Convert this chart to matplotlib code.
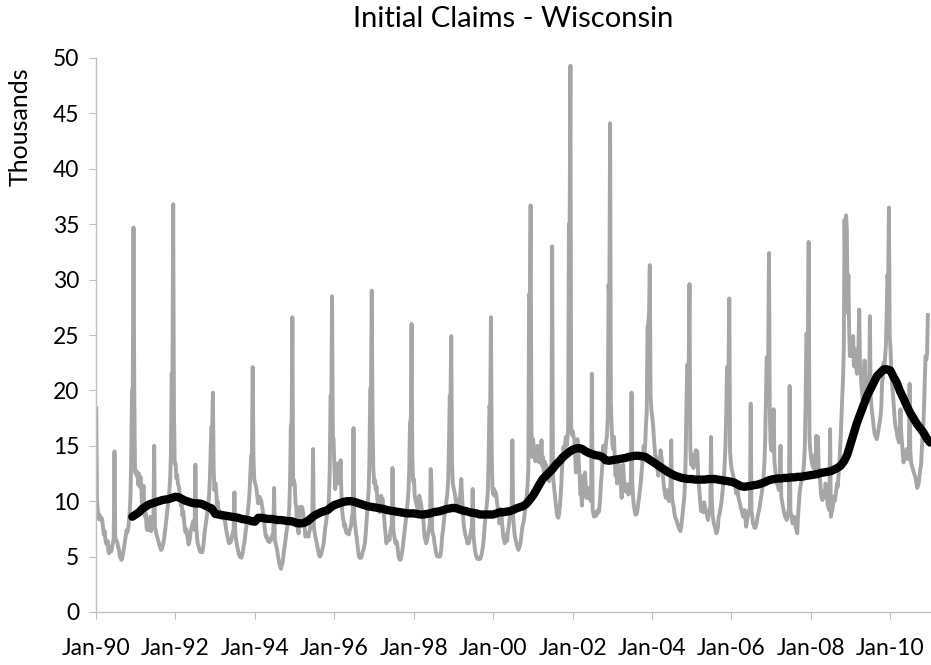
import pandas as pd
import matplotlib
matplotlib.use("Agg")
import matplotlib.pyplot as plt

plt.rcParams['font.family'] = ['Lato', 'DejaVu Sans']

# Weekly initial claims in Wisconsin (thousands), one list per year
claims_1990 = [18.4, 10.1, 9.2, 8.4, 8.8, 8.6, 8.3, 8.5, 8.2, 7.6,
               7.0, 7.3, 6.6, 6.2, 6.1, 6.4, 5.5, 5.3, 5.9, 5.5,
               5.5, 5.9, 6.3, 6.6, 14.5, 6.8, 6.5, 6.4, 6.2, 5.8,
               5.6, 5.0, 4.9, 4.7, 4.8, 5.2, 5.6, 6.0, 6.5, 7.0,
               7.4, 7.2, 7.6, 8.2, 9.0, 10.4, 14.0, 20.0, 20.3, 34.7,
               20.0, 12.6]
claims_1991 = [12.8, 12.3, 12.6, 11.5, 12.5, 11.3, 12.2, 11.4, 9.6, 10.4,
               11.4, 9.6, 8.6, 8.9, 7.6, 7.4, 8.0, 7.4, 7.7, 8.6,
               7.3, 7.6, 8.0, 8.2, 15.0, 7.6, 7.4, 7.0, 6.8, 6.5,
               6.3, 6.0, 5.8, 5.6, 5.7, 5.9, 6.2, 6.6, 7.2, 7.7,
               8.4, 9.0, 9.6, 10.3, 11.0, 12.0, 14.3, 21.5, 21.0, 36.8,
               18.0, 13.4]
claims_1992 = [13.4, 12.1, 12.4, 11.6, 11.4, 11.0, 10.1, 9.6, 9.9, 8.7,
               9.1, 8.4, 7.6, 7.2, 7.5, 7.0, 6.6, 6.1, 6.3, 6.8,
               7.4, 7.6, 7.9, 8.2, 7.8, 7.4, 13.3, 8.0, 6.9, 6.2,
               6.0, 5.7, 5.5, 5.4, 5.5, 5.4, 5.7, 6.3, 7.1, 7.6,
               8.1, 8.6, 9.1, 9.8, 10.5, 12.0, 14.5, 16.7, 16.5, 19.8,
               13.0, 11.0]
claims_1993 = [11.6, 11.0, 9.7, 10.0, 9.1, 8.8, 9.1, 8.5, 8.9, 8.7,
               8.9, 8.4, 8.7, 8.0, 7.5, 7.1, 6.8, 6.4, 6.2, 6.3,
               6.3, 6.5, 6.9, 7.2, 7.5, 10.8, 7.3, 6.6, 6.2, 5.8,
               5.5, 5.2, 5.0, 5.0, 4.9, 5.1, 5.4, 5.9, 6.2, 6.8,
               7.4, 7.9, 8.6, 9.3, 10.0, 11.0, 12.5, 14.1, 14.3, 22.1,
               14.1, 12.0]
claims_1994 = [11.6, 11.4, 11.0, 10.4, 9.8, 10.1, 10.4, 9.9, 10.1, 9.6,
               9.2, 8.6, 8.0, 7.4, 6.8, 6.9, 6.6, 6.4, 6.5, 6.3,
               6.6, 6.5, 6.8, 7.0, 6.9, 11.2, 6.5, 6.2, 5.9, 5.6,
               5.1, 4.7, 4.3, 4.1, 3.9, 4.2, 4.4, 4.9, 5.6, 6.0,
               6.5, 7.1, 7.6, 8.0, 8.6, 9.4, 12.0, 16.8, 17.1, 26.6,
               11.5, 11.9]
claims_1995 = [11.5, 9.8, 9.5, 7.7, 7.6, 7.1, 8.4, 9.5, 9.2, 9.5,
               9.4, 8.9, 8.3, 7.6, 6.8, 7.0, 7.1, 6.9, 6.8, 7.2,
               7.5, 8.0, 7.6, 7.9, 14.7, 7.8, 7.2, 6.8, 6.5, 6.2,
               5.8, 5.4, 5.1, 5.0, 5.1, 5.3, 5.6, 5.9, 6.2, 6.9,
               7.6, 8.0, 8.6, 9.0, 9.2, 10.5, 13.0, 19.5, 19.2, 28.5,
               15.9, 15.6]
claims_1996 = [12.8, 11.1, 11.8, 13.4, 12.6, 11.6, 12.1, 11.9, 13.7, 10.9,
               9.2, 8.6, 8.2, 7.7, 7.9, 7.3, 7.1, 7.3, 7.1, 7.0,
               7.4, 7.6, 7.9, 8.6, 8.9, 16.6, 8.6, 7.9, 7.3, 6.8,
               6.2, 5.6, 5.1, 4.9, 5.0, 4.9, 5.1, 5.4, 5.6, 5.9,
               6.2, 7.0, 8.0, 9.0, 10.0, 11.1, 14.0, 20.1, 20.4, 29.0,
               17.7, 13.0]
claims_1997 = [11.6, 11.9, 11.0, 11.3, 10.2, 9.3, 9.6, 9.0, 9.8, 10.5,
               10.0, 10.2, 9.1, 8.6, 7.6, 6.9, 6.2, 6.6, 6.5, 6.8,
               6.5, 7.2, 7.6, 7.8, 13.0, 7.4, 7.0, 6.5, 6.2, 6.4,
               6.2, 5.6, 5.0, 4.8, 4.7, 4.8, 5.2, 5.6, 6.2, 6.8,
               7.4, 8.0, 8.6, 9.3, 10.0, 11.0, 13.0, 17.1, 17.4, 26.0,
               14.1, 11.8]
claims_1998 = [12.0, 10.5, 10.1, 9.8, 9.5, 9.3, 9.8, 10.5, 10.2, 9.9,
               9.4, 9.0, 8.6, 7.6, 6.8, 6.5, 6.2, 6.4, 6.8, 7.2,
               7.6, 8.0, 12.9, 11.6, 7.4, 7.0, 6.8, 6.2, 5.8, 5.4,
               5.1, 5.0, 5.0, 5.1, 5.0, 5.2, 5.8, 6.8, 7.3, 8.0,
               8.6, 9.2, 9.6, 10.2, 10.8, 12.0, 15.0, 19.5, 19.4, 24.9,
               13.4, 11.6]
claims_1999 = [11.2, 10.8, 10.5, 10.0, 9.7, 9.3, 9.8, 10.2, 9.9, 11.0,
               12.0, 10.5, 9.2, 8.0, 7.5, 7.1, 6.8, 6.6, 6.2, 6.3,
               6.2, 6.6, 7.0, 7.4, 7.6, 11.1, 6.9, 6.2, 5.6, 5.2,
               5.0, 4.8, 4.8, 4.9, 4.8, 4.8, 5.0, 5.3, 5.7, 6.2,
               7.0, 8.0, 8.7, 9.3, 10.0, 11.0, 14.0, 18.6, 18.3, 26.6,
               14.7, 11.1]
claims_2000 = [10.6, 11.1, 10.5, 10.8, 10.5, 9.8, 9.3, 9.0, 8.0, 8.6,
               9.3, 8.5, 7.6, 6.8, 6.5, 6.2, 6.6, 7.0, 6.4, 7.2,
               7.6, 8.2, 8.8, 9.3, 9.0, 15.5, 8.6, 7.7, 7.0, 6.6,
               6.3, 6.0, 5.8, 5.6, 5.8, 6.0, 6.4, 7.0, 7.6, 7.9,
               8.2, 8.8, 9.5, 10.0, 10.6, 11.5, 13.0, 28.7, 28.2, 36.7,
               17.0, 14.0]
claims_2001 = [15.6, 14.8, 14.2, 13.6, 14.4, 13.8, 15.0, 14.2, 13.5, 14.6,
               13.8, 15.5, 13.2, 14.0, 12.6, 13.6, 12.9, 13.3, 12.0, 12.4,
               13.0, 11.8, 12.6, 13.2, 12.8, 33.0, 12.3, 11.6, 10.8, 10.3,
               9.6, 9.0, 8.6, 8.5, 8.8, 9.4, 10.3, 11.5, 13.0, 13.8,
               14.9, 14.0, 15.2, 15.8, 15.0, 15.6, 16.5, 35.0, 35.2, 49.3,
               16.7, 16.0]
claims_2002 = [16.3, 15.8, 15.6, 14.3, 12.6, 14.0, 15.6, 14.5, 13.3, 12.2,
               10.6, 10.9, 9.6, 10.8, 12.3, 11.6, 12.6, 11.4, 10.3, 10.8,
               11.2, 10.6, 10.2, 10.5, 10.0, 21.5, 9.3, 8.9, 8.6, 8.8,
               9.0, 8.7, 9.0, 9.2, 9.0, 9.5, 10.4, 11.6, 12.5, 13.4,
               15.0, 14.2, 13.6, 14.8, 15.5, 16.0, 18.0, 29.5, 28.0, 44.1,
               19.0, 16.7]
claims_2003 = [15.0, 14.7, 15.8, 13.6, 12.3, 12.9, 11.6, 12.5, 13.3, 12.8,
               12.3, 11.4, 10.3, 11.5, 13.3, 12.0, 11.6, 10.9, 11.2, 10.8,
               11.5, 10.6, 11.0, 11.6, 11.2, 19.8, 11.6, 10.4, 9.6, 9.2,
               8.8, 8.8, 8.9, 9.3, 9.9, 10.4, 11.0, 11.6, 12.4, 13.3,
               14.1, 15.0, 14.4, 15.2, 17.0, 18.0, 25.7, 26.0, 27.0, 31.3,
               19.5, 18.3]
claims_2004 = [17.6, 17.0, 16.0, 15.0, 14.2, 14.0, 13.3, 12.8, 12.3, 12.9,
               13.6, 14.6, 14.0, 13.6, 12.5, 11.6, 11.0, 10.6, 10.3, 10.6,
               11.0, 10.6, 10.0, 10.4, 11.6, 15.5, 10.4, 9.8, 9.6, 9.0,
               8.6, 8.4, 8.3, 8.0, 7.8, 7.6, 7.4, 7.3, 7.6, 8.3,
               8.9, 9.6, 10.2, 11.5, 14.0, 18.5, 22.3, 22.0, 22.5, 29.6,
               15.0, 13.3]
claims_2005 = [14.2, 13.3, 13.0, 13.6, 14.0, 14.6, 14.2, 14.5, 12.5, 11.6,
               10.6, 9.8, 9.1, 9.6, 9.3, 9.0, 9.9, 9.5, 9.3, 9.0,
               8.6, 8.3, 8.8, 9.0, 9.4, 15.8, 10.3, 8.8, 8.3, 7.9,
               7.7, 7.4, 7.1, 7.3, 7.6, 8.6, 8.8, 9.2, 9.6, 10.1,
               10.8, 11.6, 12.2, 13.5, 15.0, 18.0, 22.1, 21.8, 22.1, 28.3,
               14.5, 13.5]
claims_2006 = [12.9, 12.6, 12.3, 12.0, 11.6, 11.2, 10.7, 11.1, 10.9, 10.3,
               10.0, 9.8, 9.4, 9.2, 8.9, 8.6, 8.9, 9.2, 8.4, 7.7,
               8.2, 8.6, 8.9, 9.2, 9.4, 18.8, 9.2, 8.6, 8.0, 7.8,
               7.6, 7.6, 7.8, 8.1, 8.6, 8.9, 9.2, 9.6, 10.1, 10.5,
               11.0, 11.6, 12.4, 13.5, 15.5, 19.0, 23.0, 22.6, 23.2, 32.4,
               18.3, 15.3]
claims_2007 = [14.6, 15.3, 14.5, 18.3, 13.6, 12.9, 12.2, 11.6, 11.8, 11.2,
               11.0, 11.9, 15.0, 10.4, 10.0, 9.6, 9.2, 8.9, 8.6, 8.8,
               8.3, 8.6, 8.9, 9.4, 20.4, 9.2, 8.7, 8.3, 8.0, 8.3,
               8.6, 8.0, 7.6, 7.4, 7.1, 8.6, 9.6, 10.7, 11.2, 11.6,
               12.0, 12.3, 12.8, 13.5, 15.0, 19.0, 25.1, 24.8, 25.3, 33.4,
               15.9, 14.7]
claims_2008 = [14.0, 13.5, 13.3, 13.0, 13.6, 14.2, 12.8, 15.9, 13.4, 15.8,
               13.0, 12.3, 11.8, 10.7, 10.3, 10.1, 10.6, 10.9, 10.4, 11.6,
               11.0, 10.2, 9.6, 9.4, 9.2, 16.5, 8.6, 9.0, 9.2, 9.8,
               10.4, 10.0, 10.4, 10.9, 11.6, 11.3, 12.3, 13.2, 14.7, 15.8,
               17.7, 19.5, 21.0, 23.7, 35.4, 30.0, 35.8, 34.5, 27.0, 30.4,
               25.6, 23.1]
claims_2009 = [24.0, 23.1, 24.5, 24.9, 22.2, 23.0, 23.7, 22.0, 21.5, 23.0,
               24.0, 27.3, 22.4, 21.5, 20.3, 19.5, 18.8, 20.4, 22.7, 21.2,
               21.0, 19.8, 20.5, 20.0, 19.2, 26.7, 19.5, 18.6, 18.0, 17.3,
               16.7, 16.2, 15.9, 15.8, 15.6, 15.9, 16.3, 16.8, 17.2, 17.7,
               18.5, 20.7, 21.2, 22.5, 22.0, 23.0, 24.0, 26.5, 30.4, 29.8,
               36.5, 25.0]
claims_2010 = [23.7, 21.5, 20.7, 19.8, 18.9, 17.8, 17.0, 16.6, 16.3, 15.8,
               15.6, 15.3, 16.0, 18.3, 16.2, 15.3, 14.4, 13.5, 13.8, 14.0,
               14.4, 14.7, 14.2, 13.8, 14.0, 20.6, 14.5, 13.5, 13.2, 13.0,
               12.7, 12.5, 12.3, 12.0, 11.6, 11.2, 11.4, 11.6, 12.2, 12.9,
               13.2, 14.5, 15.9, 16.8, 18.5, 21.0, 23.1, 22.8, 23.3, 26.8]

# 52-week moving average, read at the start of each month (Dec 1990 - Jan 2011)
ma_52wk = [8.6,
           8.8, 9.0, 9.3, 9.5, 9.7, 9.8, 9.9, 10.0, 10.1, 10.15, 10.2, 10.3,
           10.4, 10.35, 10.2, 10.05, 9.95, 9.85, 9.8, 9.8, 9.75, 9.6, 9.45, 9.35,
           8.85, 8.8, 8.75, 8.7, 8.65, 8.6, 8.55, 8.5, 8.4, 8.35, 8.3, 8.2,
           8.15, 8.5, 8.5, 8.45, 8.4, 8.4, 8.35, 8.3, 8.3, 8.25, 8.2, 8.2,
           8.1, 8.0, 8.0, 8.05, 8.2, 8.45, 8.7, 8.85, 9.0, 9.1, 9.2, 9.45,
           9.65, 9.75, 9.85, 9.95, 10.0, 10.0, 9.95, 9.85, 9.75, 9.65, 9.55, 9.5,
           9.45, 9.4, 9.35, 9.3, 9.2, 9.15, 9.1, 9.05, 9.0, 8.95, 8.9, 8.9,
           8.9, 8.85, 8.8, 8.8, 8.85, 8.9, 9.0, 9.05, 9.1, 9.2, 9.3, 9.35,
           9.4, 9.35, 9.25, 9.15, 9.1, 9.0, 8.95, 8.9, 8.8, 8.8, 8.8, 8.8,
           8.8, 8.9, 9.0, 9.0, 9.05, 9.1, 9.2, 9.35, 9.45, 9.55, 9.75, 10.1,
           10.5, 11.0, 11.5, 12.0, 12.3, 12.6, 12.9, 13.3, 13.6, 13.95, 14.2, 14.45,
           14.65, 14.75, 14.8, 14.7, 14.5, 14.35, 14.25, 14.15, 14.1, 14.0, 13.7, 13.65,
           13.7, 13.75, 13.8, 13.85, 13.9, 14.0, 14.05, 14.1, 14.1, 14.05, 14.0, 13.8,
           13.6, 13.4, 13.2, 13.0, 12.8, 12.6, 12.45, 12.3, 12.2, 12.1, 12.05, 12.0,
           12.0, 11.95, 11.95, 11.95, 11.95, 12.0, 12.0, 12.0, 11.95, 11.9, 11.85, 11.8,
           11.75, 11.65, 11.5, 11.35, 11.3, 11.35, 11.4, 11.45, 11.5, 11.6, 11.7, 11.85,
           11.95, 12.0, 12.05, 12.05, 12.1, 12.1, 12.15, 12.15, 12.2, 12.2, 12.25, 12.3,
           12.35, 12.4, 12.45, 12.55, 12.6, 12.65, 12.7, 12.85, 13.0, 13.2, 13.6, 14.2,
           15.2, 16.2, 17.1, 17.9, 18.7, 19.5, 20.1, 20.7, 21.3, 21.6, 21.9, 21.9,
           21.8, 21.2, 20.7, 19.9, 19.3, 18.6, 18.0, 17.5, 17.0, 16.6, 16.2, 15.7,
           15.3]

tick_years = [1990, 1992, 1994, 1996, 1998, 2000, 2002, 2004, 2006, 2008, 2010]
tick_labels = ['Jan-90', 'Jan-92', 'Jan-94', 'Jan-96', 'Jan-98', 'Jan-00',
               'Jan-02', 'Jan-04', 'Jan-06', 'Jan-08', 'Jan-10']

weekly = [claims_1990, claims_1991, claims_1992, claims_1993, claims_1994,
          claims_1995, claims_1996, claims_1997, claims_1998, claims_1999,
          claims_2000, claims_2001, claims_2002, claims_2003, claims_2004,
          claims_2005, claims_2006, claims_2007, claims_2008, claims_2009,
          claims_2010]

# build the weekly dates, each year restarting on Jan 3
dates = []
values = []
for year, vals in zip(range(1990, 2011), weekly):
    dates += list(pd.date_range(f'{year}-01-03', periods=len(vals), freq='7D'))
    values += vals
ma_dates = pd.date_range('1990-12-01', periods=len(ma_52wk), freq='MS')

fig = plt.figure(figsize=(9.31, 6.65), dpi=100)
ax = fig.add_axes([96 / 931, 53 / 665, 835 / 931, 554 / 665])

ax.plot(dates, values, color='#A6A6A6', linewidth=2.8)
ax.plot(ma_dates, ma_52wk, color='black', linewidth=6, solid_capstyle='round')

ax.set_xlim(pd.Timestamp('1990-01-01'), pd.Timestamp('2011-01-10'))
ax.set_ylim(0, 50)
ax.set_yticks(range(0, 51, 5))
ax.set_xticks([pd.Timestamp(f'{y}-01-01') for y in tick_years])
ax.set_xticklabels(tick_labels)

for side in ['top', 'right']:
    ax.spines[side].set_visible(False)
for side in ['left', 'bottom']:
    ax.spines[side].set_color('#BFBFBF')
    ax.spines[side].set_linewidth(1.0)
ax.tick_params(axis='both', direction='out', length=5, color='#BFBFBF',
               labelsize=16.5, labelcolor='black')
ax.tick_params(axis='y', pad=7)
ax.tick_params(axis='x', pad=14)

fig.text(513 / 931, 1 - 19 / 665, 'Initial Claims - Wisconsin',
         ha='center', va='center', fontsize=21)
fig.text(20 / 931, 1 - 127 / 665, 'Thousands', rotation=90,
         ha='center', va='center', fontsize=18)

plt.savefig('out.png', dpi=100)
